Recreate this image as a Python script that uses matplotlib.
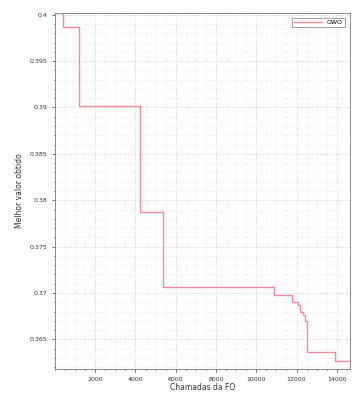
import numpy as np
import matplotlib.pyplot as plt

# best objective value after each function call (step changes only)
chamadas = [0, 400, 1200, 4220, 5360, 10860, 11760, 12050, 12150, 12300, 12400, 12500, 13890, 14650]
melhor = [0.4002, 0.3987, 0.3902, 0.3787, 0.3706, 0.36975, 0.3690, 0.36867, 0.3679, 0.3676, 0.3670, 0.3636, 0.3627, 0.3627]

xticks = [2000, 4000, 6000, 8000, 10000, 12000, 14000]
yticks = [0.365, 0.37, 0.375, 0.38, 0.385, 0.39, 0.395, 0.4]

fig = plt.figure(figsize=(3.52, 3.97), dpi=100)
ax = fig.add_axes([0.156, 0.0705, 0.838, 0.897])

ax.plot(chamadas, melhor, drawstyle='steps-post', color='#f28a9c', lw=1.0, label='GWO')

ax.set_xlim(0, 14650)
ax.set_ylim(0.3618, 0.4002)
ax.set_xticks(xticks)
ax.set_yticks(yticks)
ax.set_yticklabels([f'{v:g}' for v in yticks])
ax.minorticks_on()
ax.grid(which='major', color='#c8c8c8', ls=':', lw=0.6)
ax.grid(which='minor', color='#e4e4e4', ls=':', lw=0.5)
ax.tick_params(labelsize=4.5, colors='#333333', length=2, width=0.5)
ax.tick_params(which='minor', length=1)

for s in ax.spines.values():
    s.set_color('#8a8a8a')
    s.set_linewidth(0.7)

ax.set_xlabel('Chamadas da FO', fontsize=5.5, labelpad=1, color='#333333')
ax.set_ylabel('Melhor valor obtido', fontsize=5.5, labelpad=4, color='#333333')

leg = ax.legend(loc='upper right', fontsize=4.5, frameon=True, fancybox=False,
                borderpad=0.3, handlelength=4.5, borderaxespad=0.8)
leg.get_frame().set_edgecolor('#777777')
leg.get_frame().set_linewidth(0.6)

fig.savefig('out.png', dpi=100)
